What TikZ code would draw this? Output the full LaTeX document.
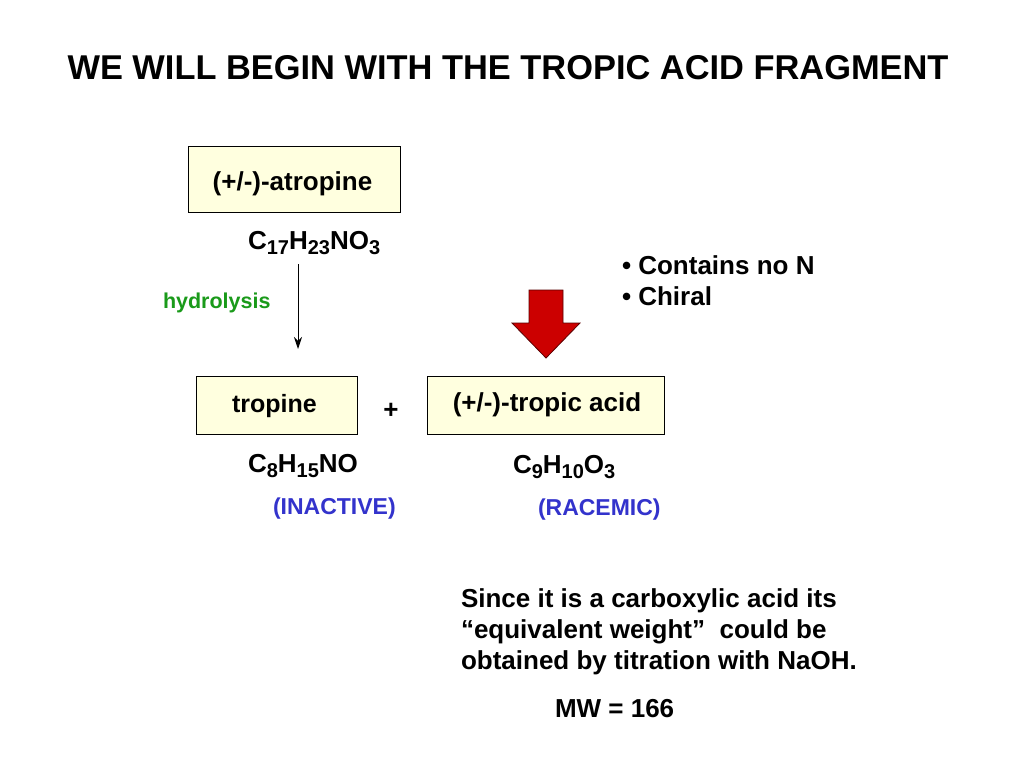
\documentclass[tikz,border=0pt]{standalone}
\usepackage{fontspec}
\setmainfont{Liberation Sans}
\usetikzlibrary{arrows.meta}
\definecolor{boxfill}{HTML}{FFFFDF}
\definecolor{hgreen}{HTML}{1A9A1A}
\definecolor{iblue}{HTML}{3333CC}
\definecolor{rfill}{HTML}{CC0000}
\definecolor{rline}{HTML}{5A0000}
\newcommand\sbs[1]{\raisebox{-0.22em}{\fontsize{20}{20}\selectfont #1}}
\tikzset{
  every node/.style={inner sep=0pt, outer sep=0pt},
  body/.style={font=\fontsize{26}{31}\selectfont\bfseries, anchor=base},
  chembox/.style={draw=black, line width=0.9pt, fill=boxfill},
  small/.style={font=\fontsize{23}{26}\selectfont\bfseries, anchor=base},
}
\begin{document}
\begin{tikzpicture}[x=1pt,y=-1pt]
\useasboundingbox (0,0) rectangle (1024,768);
\fill[white] (0,0) rectangle (1024,768);
\node[anchor=base, font=\fontsize{34.4}{38}\selectfont\bfseries] (title) at (508,79) {WE WILL BEGIN WITH THE TROPIC ACID FRAGMENT};
% boxes
\draw[chembox] (188,146) rectangle (400,212);
\node[body] (atropine) at (292.5,190) {(+/-)-atropine};
\draw[chembox] (196,376) rectangle (357,434);
\node[body, font=\fontsize{25}{30}\selectfont\bfseries] (tropine) at (274.5,412) {tropine};
\draw[chembox] (427,376) rectangle (664,434);
\node[body] (tropic) at (547,411) {(+/-)-tropic acid};
\node[body] (plus) at (391,418) {+};
% formulas
\node[body, anchor=base west] (f1) at (248,249) {C\sbs{17}H\sbs{23}NO\sbs{3}};
\node[body, anchor=base west] (f2) at (248,472) {C\sbs{8}H\sbs{15}NO};
\node[body, anchor=base west] (f3) at (513,473) {C\sbs{9}H\sbs{10}O\sbs{3}};
% labels
\node[small, anchor=base west, text=hgreen, font=\fontsize{21.5}{24}\selectfont\bfseries] (hyd) at (163,308) {hydrolysis};
\node[small, anchor=base west, text=iblue] (inact) at (273,514) {(INACTIVE)};
\node[small, anchor=base west, text=iblue] (race) at (538,515) {(RACEMIC)};
% arrow
\coordinate (a1) at (298,264);
\coordinate (a2) at (298,349);
\draw[-{Stealth[length=12pt,width=8pt,inset=4pt]}, line width=0.9pt] (a1) -- (a2);
% red block arrow
\draw[fill=rfill, draw=rline, line width=0.8pt, line join=miter]
  (529,290) -- (563,290) -- (563,323) -- (580,323) -- (546,358) -- (512,323) -- (529,323) -- cycle;
% bullets
\node[body, anchor=base west] (b1) at (622,274) {• Contains no N};
\node[body, anchor=base west] (b2) at (622,305) {• Chiral};
% note
\node[body, anchor=base west, align=left] (note) at (461,669) {Since it is a carboxylic acid its\\“equivalent weight”~ could be\\obtained by titration with NaOH.};
\node[body, anchor=base west] (mw) at (555,717) {MW = 166};
\end{tikzpicture}
\end{document}
